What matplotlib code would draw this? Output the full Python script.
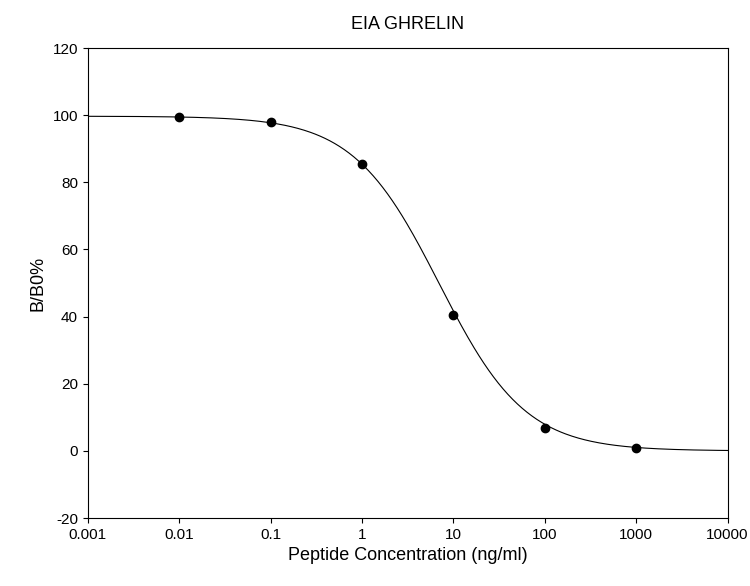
import numpy as np
import matplotlib
matplotlib.use("Agg")
import matplotlib.pyplot as plt

plt.rcParams['font.family'] = ['Liberation Sans', 'DejaVu Sans']
plt.rcParams['axes.unicode_minus'] = False

conc = [0.01, 0.1, 1, 10, 100, 1000]
bb0 = [99.5, 98.0, 85.5, 40.5, 6.8, 1.0]
# estimated 4-parameter logistic fit parameters
top, bottom, ec50, hill = 99.7, 0.0, 7.0, 0.92
xticks = [0.001, 0.01, 0.1, 1, 10, 100, 1000, 10000]
xticklabels = ['0.001', '0.01', '0.1', '1', '10', '100', '1000', '10000']
yticks = [-20, 0, 20, 40, 60, 80, 100, 120]

fig = plt.figure(figsize=(7.5, 5.86), dpi=100)
ax = fig.add_axes([0.117, 0.116, 0.853, 0.802])
xs = np.logspace(np.log10(0.001), np.log10(10000), 400)
ys = bottom + (top - bottom) / (1 + (xs / ec50) ** hill)
ax.plot(xs, ys, color='black', lw=0.8)
ax.plot(conc, bb0, 'o', color='black', ms=6)
ax.set_xscale('log')
ax.set_xlim(0.001, 10000)
ax.set_ylim(-20, 120)
ax.set_xticks(xticks)
ax.set_xticklabels(xticklabels)
ax.minorticks_off()
ax.set_yticks(yticks)
ax.tick_params(direction='out', labelsize=11)
ax.set_xlabel('Peptide Concentration (ng/ml)', fontsize=13)
ax.set_ylabel('B/B0%', fontsize=13)
ax.set_title('EIA GHRELIN', fontsize=13, pad=14)
fig.savefig('out.png', dpi=100)
